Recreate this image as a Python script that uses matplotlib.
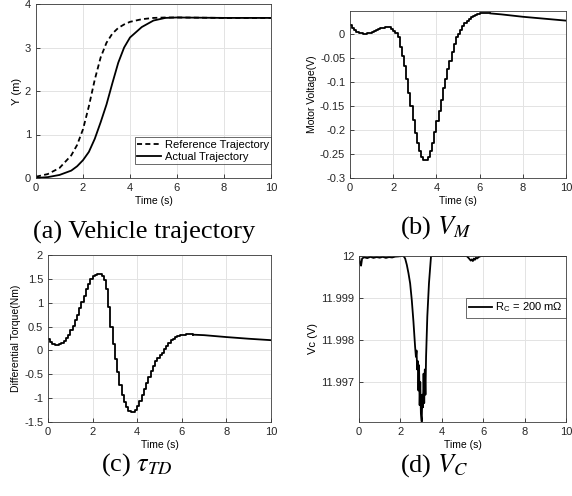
import matplotlib
matplotlib.use('Agg')
import matplotlib.pyplot as plt
import numpy as np

plt.rcParams['font.family'] = ['Liberation Sans', 'DejaVu Sans']
plt.rcParams['mathtext.fontset'] = 'stix'
plt.rcParams['axes.unicode_minus'] = False

# (a) vehicle trajectory
t_a = [0.0, 0.5, 1.0, 1.5, 1.75, 2.0, 2.25, 2.5, 2.75, 3.0, 3.25, 3.5, 3.75, 4.0, 4.5, 5.0, 5.5, 6.0, 8.0, 10.0]
y_ref = [0.03, 0.09, 0.23, 0.52, 0.76, 1.12, 1.65, 2.26, 2.77, 3.11, 3.32, 3.45, 3.53, 3.59, 3.65, 3.68, 3.69, 3.69, 3.68, 3.68]
y_act = [0.00, 0.02, 0.07, 0.17, 0.27, 0.41, 0.60, 0.90, 1.28, 1.69, 2.18, 2.65, 3.00, 3.23, 3.47, 3.62, 3.68, 3.69, 3.68, 3.68]

# (b), (c) sampled every 0.1 s up to 6.5 s, then smooth tail
t_step = np.round(np.arange(0, 6.55, 0.1), 1)
t_tail = [6.5, 7.0, 8.0, 9.0, 10.0]

v_motor = [0.018, 0.012, 0.007, 0.004, 0.002, 0.001, 0.000, 0.000, 0.001, 0.002,
           0.004, 0.005, 0.007, 0.009, 0.011, 0.012, 0.013, 0.014, 0.013, 0.010,
           0.006, 0.001, -0.008, -0.028, -0.047, -0.067, -0.095, -0.123, -0.151, -0.180,
           -0.206, -0.227, -0.244, -0.257, -0.262, -0.262, -0.257, -0.244, -0.227, -0.204,
           -0.182, -0.160, -0.137, -0.113, -0.095, -0.074, -0.057, -0.038, -0.022, -0.008,
           0.000, 0.007, 0.016, 0.022, 0.027, 0.031, 0.034, 0.037, 0.039, 0.041,
           0.042, 0.043, 0.043, 0.043, 0.042, 0.042]
v_motor_tail = [0.042, 0.040, 0.035, 0.031, 0.027]

torque = [0.25, 0.18, 0.14, 0.12, 0.12, 0.13, 0.16, 0.20, 0.26, 0.33,
          0.42, 0.52, 0.63, 0.75, 0.88, 1.01, 1.14, 1.28, 1.40, 1.49,
          1.55, 1.59, 1.61, 1.61, 1.57, 1.47, 1.28, 0.92, 0.50, 0.14,
          -0.18, -0.46, -0.72, -0.93, -1.08, -1.19, -1.26, -1.30, -1.30, -1.25,
          -1.16, -1.05, -0.93, -0.80, -0.68, -0.56, -0.43, -0.32, -0.23, -0.16,
          -0.10, -0.05, 0.03, 0.10, 0.16, 0.21, 0.25, 0.28, 0.30, 0.32,
          0.33, 0.33, 0.34, 0.34, 0.34, 0.33]
torque_tail = [0.33, 0.32, 0.28, 0.245, 0.215]

# (d) capacitor voltage
t_d = [0.0, 0.05, 0.1, 0.15, 0.25, 0.4, 0.55, 0.7, 0.85, 1.0, 1.15, 1.3, 1.45, 1.6, 1.75, 1.9,
       2.05, 2.15, 2.23, 2.31, 2.39, 2.47, 2.55, 2.63, 2.71, 2.75, 2.78, 2.81, 2.84, 2.87, 2.9,
       2.93, 2.96, 2.99, 3.03, 3.06, 3.09, 3.12, 3.15, 3.18, 3.21, 3.24, 3.3, 3.38, 3.48,
       5.2, 5.3, 5.4, 5.45, 5.5, 5.55, 5.6, 5.65, 5.7, 5.8, 5.9, 6.0, 10.0]
v_c = [12.0, 11.99983, 11.99977, 11.99994, 11.99997, 11.99995, 11.99998, 11.999955, 11.999975,
       11.99996, 11.99998, 11.999955, 11.999975, 11.999965, 11.999985, 11.99999,
       12.0, 12.0, 11.99994, 11.99979, 11.99959, 11.99935, 11.99895, 11.99844, 11.99784,
       11.9976, 11.99775, 11.9973, 11.9975, 11.9968, 11.9974, 11.99645, 11.997, 11.99625,
       11.99606, 11.9967, 11.9964, 11.9972, 11.9965, 11.9973, 11.9967, 11.9976, 11.99856,
       11.99935, 12.0, 12.0, 11.99995, 11.99989, 11.99992, 11.99988, 11.99994, 11.99991,
       11.99996, 11.99994, 11.99998, 12.0, 12.0, 12.0]
vc_ticks = [11.997, 11.998, 11.999, 12.0]
vc_labels = ['11.997', '11.998', '11.999', '12']

W, H = 572, 496
fig = plt.figure(figsize=(W / 100, H / 100), dpi=100)


def make_ax(x0, x1, y0, y1):
    ax = fig.add_axes([x0 / W, 1 - y1 / H, (x1 - x0) / W, (y1 - y0) / H])
    ax.grid(True, color='#e3e3e3', linewidth=0.7)
    ax.set_axisbelow(True)
    for s in ax.spines.values():
        s.set_color('#3a3a3a')
        s.set_linewidth(0.6)
    ax.tick_params(direction='in', length=3, width=0.6, labelsize=8, colors='#262626')
    ax.set_xlim(0, 10)
    ax.set_xticks([0, 2, 4, 6, 8, 10])
    ax.set_xlabel('Time (s)', fontsize=7.5, labelpad=2)
    return ax


lw = 1.3

# (a)
ax = make_ax(36, 271, 4, 178)
ax.plot(t_a, y_ref, color='black', lw=lw, dashes=(2.8, 1.8), label='Reference Trajectory')
ax.plot(t_a, y_act, color='black', lw=lw, label='Actual Trajectory')
ax.set_ylim(0, 4)
ax.set_yticks([0, 1, 2, 3, 4])
ax.set_ylabel('Y (m)', fontsize=8, labelpad=2)
leg = ax.legend(loc='lower right', bbox_to_anchor=(1.0, 0.08), fontsize=8, frameon=True,
                fancybox=False, edgecolor='#262626', handlelength=2.2, borderpad=0.2,
                labelspacing=0.2, handletextpad=0.3, borderaxespad=0)
leg.get_frame().set_linewidth(0.6)

# (b)
ax = make_ax(350, 566, 11, 178)
ax.plot(t_step, v_motor, color='black', lw=lw, drawstyle='steps-post')
ax.plot(t_tail, v_motor_tail, color='black', lw=lw)
ax.set_ylim(-0.3, 0.047)
ax.set_yticks([-0.3, -0.25, -0.2, -0.15, -0.1, -0.05, 0])
ax.set_yticklabels(['-0.3', '-0.25', '-0.2', '-0.15', '-0.1', '-0.05', '0'])
ax.set_ylabel('Motor Voltage(V)', fontsize=7.5, labelpad=2)

# (c)
ax = make_ax(48, 271, 255, 422)
ax.plot(t_step, torque, color='black', lw=lw, drawstyle='steps-post')
ax.plot(t_tail, torque_tail, color='black', lw=lw)
ax.set_ylim(-1.5, 2)
ax.set_yticks([-1.5, -1, -0.5, 0, 0.5, 1, 1.5, 2])
ax.set_yticklabels(['-1.5', '-1', '-0.5', '0', '0.5', '1', '1.5', '2'])
ax.set_ylabel('Differential Torque(Nm)', fontsize=7.5, labelpad=2)

# (d)
ax = make_ax(359, 566, 256, 422)
ax.plot(t_d, v_c, color='black', lw=lw, label='R$_\\mathregular{C}$ = 200 m\u03a9')
ax.set_ylim(11.99605, 12.0)
ax.set_yticks(vc_ticks)
ax.set_yticklabels(vc_labels)
ax.set_ylabel('Vc (V)', fontsize=8, labelpad=2)
leg = ax.legend(loc='upper right', bbox_to_anchor=(1.0, 0.75), fontsize=8, frameon=True,
                fancybox=False, edgecolor='#262626', handlelength=2.0, borderpad=0.3,
                handletextpad=0.3, borderaxespad=0)
leg.get_frame().set_linewidth(0.6)

# captions
cap = dict(fontsize=19, family='Liberation Serif', ha='center', va='center')
fig.text(144 / W, 1 - 232 / H, '(a) Vehicle trajectory', **cap)
fig.text(436 / W, 1 - 228 / H, '(b) $V_M$', **cap)
fig.text(137 / W, 1 - 465 / H, '(c) $\\tau_{TD}$', **cap)
fig.text(434 / W, 1 - 466 / H, '(d) $V_C$', **cap)

fig.savefig('out.png', dpi=100)
